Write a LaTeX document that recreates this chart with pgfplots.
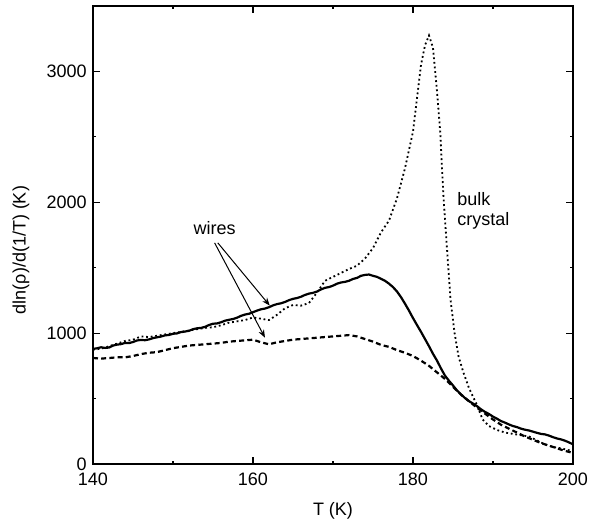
\documentclass[border=0pt]{standalone}
\usepackage{fontspec}
\setmainfont{Liberation Sans}
\usepackage{pgfplots}
\pgfplotsset{compat=1.18}
\usetikzlibrary{arrows.meta}
\begin{document}
\fontsize{9pt}{11pt}\selectfont
\begin{tikzpicture}
\useasboundingbox (-46.5pt,-29.5pt) rectangle (253.5pt,232pt);
\begin{axis}[
  scale only axis, width=240pt, height=229pt,
  at={(0,0)}, anchor=south west,
  xmin=140, xmax=200, ymin=0, ymax=3500,
  xtick={140,160,180,200}, minor xtick={150,170,190},
  ytick={0,1000,2000,3000}, minor ytick={500,1500,2500},
  tick align=inside, tick pos=both,
  major tick length=3.5pt, minor tick length=1.5pt,
  axis line style={line width=0.9pt},
  every tick/.style={line width=0.6pt, black},
  /pgf/number format/assume math mode=true,
  /pgf/number format/set thousands separator={},
  tick label style={font=\fontsize{9pt}{11pt}\selectfont},
  xticklabel style={yshift=-1.3pt},
  xlabel={T (K)}, ylabel={dln(ρ)/d(1/T) (K)},
  every axis x label/.style={at={(axis description cs:0.5,-0.103)}, anchor=center},
  every axis y label/.style={at={(axis description cs:-0.150,0.467)}, anchor=center, rotate=90},
  label style={font=\fontsize{9pt}{11pt}\selectfont},
  clip=false,
]
% wire 1 (solid)
\addplot[black, line width=1.1pt] coordinates {
(140,880)(140.5,884)(141,892)(141.5,887)(142,890)(142.5,905)(143,912)(143.5,916)(144,925)(144.5,924)(145,932)(145.5,944)(146,948)(146.5,946)(147,952)(147.5,962)(148,968)(148.5,974)(149,983)(149.5,986)
(150,995)(150.5,998)(151,1008)(151.5,1012)(152,1018)(152.5,1030)(153,1037)(153.5,1040)(154,1048)(154.5,1062)(155,1072)(155.5,1074)(156,1083)(156.5,1095)(157,1102)(157.5,1108)(158,1118)(158.5,1132)(159,1142)(159.5,1148)
(160,1160)(160.5,1172)(161,1182)(161.5,1188)(162,1198)(162.5,1212)(163,1222)(163.5,1228)(164,1238)(164.5,1252)(165,1262)(165.5,1268)(166,1278)(166.5,1292)(167,1302)(167.5,1308)(168,1318)(168.5,1334)(169,1346)(169.5,1352)
(170,1363)(170.5,1378)(171,1387)(171.5,1392)(172,1400)(172.5,1414)(173,1422)(173.5,1438)(174,1445)(174.5,1448)(175,1438)(175.5,1430)(176,1415)(176.5,1400)(177,1378)(177.5,1352)(178,1318)(178.5,1275)(179,1225)(179.5,1172)
(180,1115)(180.5,1062)(181,1010)(181.5,955)(182,900)(182.5,842)(183,790)(183.5,730)(184,675)(184.5,636)(185,600)(185.5,562)(186,532)(186.5,504)(187,480)(187.5,462)(188,442)(188.5,418)(189,398)(189.5,382)
(190,362)(190.5,346)(191,328)(191.5,316)(192,302)(192.5,290)(193,282)(193.5,270)(194,262)(194.5,256)(195,247)(195.5,238)(196,230)(196.5,226)(197,217)(197.5,205)(198,195)(198.5,188)(199,178)(199.5,165)(200,150)
};
% wire 2 (dashed)
\addplot[black, line width=1.1pt, dash pattern=on 2.5pt off 1.6pt] coordinates {
(140,810)(141,805)(142,810)(143,815)(144,815)(145,825)(146,840)(147,850)(148,855)(149,870)
(150,885)(151,895)(152,905)(153,910)(154,915)(155,920)(156,925)(157,935)(158,940)(159,945)
(160,950)(161,930)(162,915)(163,930)(164,940)(165,950)(166,955)(167,960)(168,965)(169,970)
(170,975)(171,980)(172,985)(173,975)(174,955)(175,935)(176,910)(177,895)(178,870)(179,850)
(180,825)(181,790)(182,750)(183,700)(184,650)(185,590)(186,530)(187,480)(188,430)(189,385)
(190,340)(191,300)(192,270)(193,240)(194,210)(195,185)(196,160)(197,140)(198,120)(199,100)(200,85)
};
% bulk crystal (dotted)
\addplot[black, line width=0.9pt, dash pattern=on 0.9pt off 1.4pt] coordinates {
(140,875)(141,880)(142,900)(143,920)(144,940)(145,950)(146,975)(147,970)(148,980)(149,990)
(150,1000)(151,1010)(152,1020)(153,1030)(154,1040)(155,1045)(156,1060)(157,1080)(158,1090)(159,1100)
(160,1120)(161,1110)(162,1100)(163,1140)(164,1190)(165,1215)(166,1210)(167,1230)(168,1310)(169,1400)
(170,1430)(171,1460)(172,1490)(173,1515)(174,1570)(175,1650)(176,1770)(177,1860)(178,2030)(179,2260)
(180,2540)(181,3050)(181.5,3200)(182,3275)(182.5,3180)(183,2850)(183.4,2540)(183.8,2050)(184.3,1600)
(184.7,1250)(185.2,1000)(185.7,820)(186.3,700)(187,580)(188,450)(188.7,340)(189.5,290)(190.5,260)
(191.5,240)(192.5,230)(193.5,220)(194.5,210)(195.5,180)(196.5,150)(197.5,130)(198.5,120)(199.5,105)(200,95)
};
\node at (axis cs:155.2,1800) {wires};
\draw[-{Stealth[length=4pt,width=3pt]}, line width=0.5pt] (axis cs:155.6,1690) -- (axis cs:162.1,1210);
\draw[-{Stealth[length=4pt,width=3pt]}, line width=0.5pt] (axis cs:155.2,1690) -- (axis cs:161.5,965);
\node[anchor=west, align=left, inner sep=0pt] at (axis cs:185.5,1935) {bulk\\[-1pt]crystal};
\end{axis}
\end{tikzpicture}
\end{document}
